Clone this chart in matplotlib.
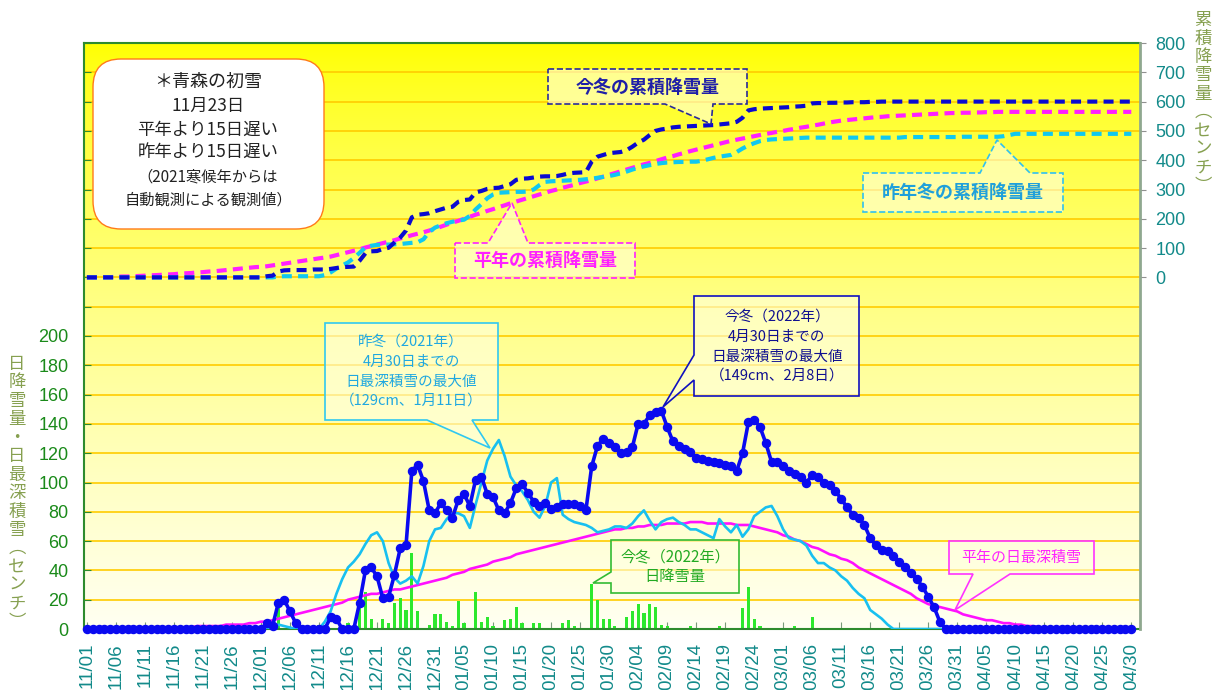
import numpy as np
import pandas as pd
import matplotlib
matplotlib.use('Agg')
from matplotlib import pyplot as plt
from matplotlib.patches import Polygon, FancyBboxPatch

plt.rcParams['font.family'] = ['Noto Sans CJK JP', 'DejaVu Sans']

# days 11/01 .. 04/30
dates = pd.date_range('2022-11-01', '2023-04-30', freq='D')
days = np.arange(len(dates))
tick_days = days[::5]
tick_labels = [d.strftime('%m/%d') for d in dates[::5]]

# daily max snow depth, this winter (cm)
depth_this = ([0] * 30 +
              [0, 4, 2, 18, 20, 12, 4, 0, 0, 0, 0, 0, 8, 7, 0, 0, 0, 18, 40, 42, 36, 21, 22, 37, 55, 57,
               108, 112, 101, 81, 79] +
              [86, 81, 76, 88, 92, 84, 102, 104, 92, 90, 81, 79, 86, 96, 99, 93, 87, 84, 86, 82, 83, 85,
               85, 85, 84, 81, 111, 125, 130, 127, 124] +
              [120, 121, 124, 140, 140, 146, 148, 149, 138, 128, 125, 123, 121, 117, 116, 115, 114, 113,
               112, 111, 108, 120, 141, 143, 138, 127, 114, 114] +
              [111, 108, 106, 104, 100, 105, 104, 100, 98, 94, 89, 83, 78, 76, 71, 62, 57, 54, 53, 50, 46,
               42, 38, 34, 29, 22, 15, 5, 0, 0, 0] +
              [0] * 30)

# daily max snow depth, last winter (cm)
depth_last = ([0] * 30 +
              [0, 0, 0, 3, 2, 1, 0, 0, 0, 0, 0, 5, 12, 24, 34, 42, 46, 51, 58, 64, 66, 60, 45, 35, 31, 33,
               36, 31, 43, 60, 68] +
              [69, 75, 79, 79, 77, 69, 85, 100, 115, 123, 129, 118, 104, 98, 94, 88, 80, 76, 84, 100, 103,
               78, 75, 73, 72, 71, 69, 66, 67, 68, 70] +
              [70, 69, 72, 77, 81, 74, 68, 73, 75, 76, 73, 71, 68, 68, 66, 64, 62, 75, 70, 66, 71, 63, 68,
               77, 80, 83, 84, 77] +
              [68, 62, 61, 60, 57, 50, 45, 45, 42, 40, 36, 33, 28, 24, 21, 13, 10, 7, 3] + [0] * 12 +
              [0] * 30)

# normal daily max snow depth (cm)
depth_normal = ([0, 0, 0, 0, 0, 0, 0, 0, 0, 0, 0, 0, 1, 1, 1, 1, 1, 1, 1, 2, 2, 2, 2, 2, 3, 3, 3, 3, 4, 4] +
                [5, 5, 6, 7, 8, 9, 10, 11, 12, 13, 14, 15, 16, 17, 18, 20, 21, 22, 23, 24, 24, 25, 26, 27,
                 27, 28, 29, 30, 31, 32, 33] +
                [34, 35, 37, 38, 39, 41, 42, 43, 44, 46, 47, 48, 49, 51, 52, 53, 54, 55, 56, 57, 58, 59, 60,
                 61, 62, 63, 64, 65, 66, 67, 68] +
                [68, 69, 69, 70, 70, 71, 71, 71, 72, 72, 72, 72, 73, 73, 73, 72, 72, 72, 72, 72, 71, 71, 71,
                 70, 69, 68, 67, 66] +
                [64, 63, 61, 60, 58, 56, 55, 53, 51, 50, 48, 47, 45, 42, 40, 38, 36, 34, 32, 30, 28, 26, 24,
                 21, 19, 17, 16, 15, 14, 13, 12] +
                [10, 9, 8, 7, 6, 6, 5, 4, 4, 3, 3, 2, 2, 1, 1, 1] + [0] * 14)

# daily snowfall, this winter (cm)
snowfall = ([0] * 30 +
            [0, 2, 0, 15, 0, 0, 0, 0, 0, 0, 3, 0, 0, 0, 0, 4, 0, 20, 25, 7, 0, 7, 4, 18, 21, 13, 52, 12, 0, 3,
             10] +
            [10, 5, 2, 19, 4, 0, 25, 5, 8, 2, 0, 6, 7, 15, 4, 0, 4, 4, 1, 0, 0, 4, 6, 2, 0, 0, 31, 20, 7, 7, 2] +
            [0, 8, 12, 17, 11, 17, 15, 3, 2, 0, 0, 1, 2, 0, 0, 1, 0, 2, 0, 1, 0, 14, 29, 7, 2, 0, 0, 0] +
            [0, 0, 2, 0, 0, 8] + [0] * 25 +
            [0] * 30)

# accumulated snowfall (cm)
cum_this = ([0] * 30 +
            [0, 4, 6, 20, 24, 25, 25, 25, 25, 27, 27, 27, 29, 32, 35, 36, 37, 57, 82, 89, 90, 97, 101, 119,
             136, 160, 205, 214, 216, 219, 226] +
            [232, 238, 241, 258, 264, 266, 290, 295, 302, 305, 306, 312, 318, 333, 337, 338, 341, 344, 345,
             345, 346, 350, 355, 357, 358, 359, 395, 412, 418, 424, 426] +
            [428, 434, 446, 460, 470, 486, 500, 505, 508, 512, 514, 515, 516, 517, 518, 519, 520, 522, 524,
             526, 531, 545, 570, 574, 576, 577, 578, 579] +
            [580, 581, 583, 584, 586, 594, 595, 595, 596, 596, 597, 597, 598, 598, 598, 599, 599] + [600] * 14 +
            [600] * 30)

cum_normal = ([0, 0, 0, 1, 1, 2, 3, 3, 4, 5, 6, 7, 8, 9, 10, 11, 13, 14, 15, 17, 18, 20, 21, 23, 25, 27, 29,
               31, 33, 35] +
              [36, 38, 41, 44, 47, 50, 53, 56, 59, 62, 65, 68, 71, 76, 81, 86, 91, 96, 102, 107, 112, 117,
               122, 127, 133, 138, 144, 149, 154, 160, 166] +
              [173, 180, 187, 193, 200, 207, 214, 220, 227, 233, 240, 246, 253, 259, 265, 271, 277, 283, 289,
               295, 300, 306, 311, 316, 322, 327, 332, 338, 344, 350, 356] +
              [362, 368, 374, 380, 386, 391, 397, 403, 409, 414, 420, 425, 431, 436, 441, 446, 451, 456, 461,
               466, 470, 474, 478, 482, 486, 490, 493, 497] +
              [500, 504, 507, 511, 514, 518, 521, 525, 529, 532, 535, 537, 539, 541, 543, 545, 547, 548, 550,
               551, 552, 553, 554, 555, 556, 557, 558, 559, 560, 561, 561] +
              [562, 562, 563, 563, 564, 564] + [565] * 24)

cum_last = ([0] * 30 +
            [0, 0, 0, 3, 4, 4, 4, 4, 4, 4, 4, 8, 17, 30, 41, 51, 66, 84, 102, 108, 111, 112, 112, 113, 114,
             116, 118, 120, 130, 155, 170] +
            [178, 185, 190, 194, 197, 210, 232, 250, 270, 283, 289, 290, 291, 292, 292, 293, 300, 315, 326,
             328, 329, 330, 331, 332, 333, 335, 337, 340, 343, 346, 350] +
            [355, 361, 368, 374, 379, 383, 387, 390, 392, 393, 394, 394, 395, 395, 398, 403, 408, 412, 415,
             418, 428, 440, 450, 458, 465, 469, 471, 472] +
            [473, 474, 475, 476] + [477] * 17 + [479] * 10 +
            [480] * 7 + [482, 486] + [490] * 21)

W, H = 1213, 690
fig = plt.figure(figsize=(W / 100, H / 100), dpi=100)
ax = fig.add_axes([84 / W, 1 - 629 / H, (1140 - 84) / W, (629 - 43) / H])
tr = fig.dpi_scale_trans


def px(x, y):
    # pixel (y down) -> inches for dpi_scale_trans
    return (x / 100, (H - y) / 100)


# background gradient
g = np.linspace(0, 1, 300) ** 0.75
img = np.zeros((300, 1, 3))
img[:, 0, 0] = 1
img[:, 0, 1] = 1
img[:, 0, 2] = 0.0 + 0.95 * g
ax.imshow(img, extent=[0, 1, 0, 1], transform=ax.transAxes, aspect='auto', zorder=0)

ax.set_xlim(-0.5, 181.5)
ax.set_ylim(0, 400)
ax.set_axisbelow(True)
ax.yaxis.grid(True, color='#FFCC00', lw=1.2)

ax.bar(days, snowfall, width=0.55, color='#2DE82D', zorder=2)
ax.plot(days, depth_normal, color='#FF10FF', lw=1.9, zorder=3)
ax.plot(days, depth_last, color='#18C0F0', lw=1.9, zorder=3)
ax.plot(days, depth_this, color='#0A0AF0', lw=2.6, marker='o', ms=5.8, zorder=4, clip_on=False)

ax.set_yticks(np.arange(0, 401, 20))
ax.set_yticklabels([str(v) if v <= 200 else '' for v in range(0, 401, 20)],
                   fontfamily='Liberation Sans')
ax.tick_params(axis='y', direction='in', length=5, color='#2E8B2E', labelcolor='#1A8A1A',
               labelsize=13, pad=11)
ax.set_xticks(tick_days)
ax.set_xticklabels(tick_labels, rotation=90, fontfamily='Liberation Sans')
ax.tick_params(axis='x', direction='in', length=5, color='#7A9A7A', labelcolor='#128A8A',
               labelsize=13.5, pad=10)
for s in ['left', 'top', 'bottom']:
    ax.spines[s].set_color('#2E8B2E')
    ax.spines[s].set_linewidth(1.5)
ax.spines['right'].set_visible(False)

ax2 = ax.twinx()
ax2.set_ylim(-1200, 800)
ax2.plot(days, cum_normal, color='#FF20FF', lw=3, dashes=(2.4, 1.5), zorder=3)
ax2.plot(days, cum_last, color='#10C8F0', lw=3, dashes=(2.4, 1.5), zorder=3)
ax2.plot(days, cum_this, color='#0A0AD0', lw=3, dashes=(2.4, 1.5), zorder=4)
ax2.set_yticks(np.arange(0, 801, 100))
ax2.set_yticklabels([str(v) for v in range(0, 801, 100)], fontfamily='Liberation Sans')
ax2.tick_params(axis='y', direction='out', length=4, color='#909090', labelcolor='#128A8A',
                labelsize=13, pad=7)
for s in ['left', 'top', 'bottom']:
    ax2.spines[s].set_visible(False)
ax2.spines['right'].set_color('#8FA88F')
ax2.spines['right'].set_linewidth(2)

# axis titles, written vertically
title_col = '#86A050'
fig.text(*px(17, 493), '\n'.join('日降雪量・日最深積雪︵センチ︶'), transform=tr, ha='center',
         va='center', fontsize=12.5, linespacing=1.03, color=title_col)
fig.text(*px(1203, 11), '\n'.join('累積降雪量︵センチ︶'), transform=tr, ha='center',
         va='top', fontsize=12.5, linespacing=1.03, color=title_col)


def callout(x0, y0, x1, y1, edge, b1, b2, tip, ec, ls='-'):
    if edge == 'bottom':
        pts = [(x0, y0), (x1, y0), (x1, y1), (b2, y1), tip, (b1, y1), (x0, y1)]
    elif edge == 'top':
        pts = [(x0, y0), (b1, y0), tip, (b2, y0), (x1, y0), (x1, y1), (x0, y1)]
    else:
        pts = [(x0, y0), (x1, y0), (x1, y1), (x0, y1), (x0, b2), tip, (x0, b1)]
    poly = Polygon([px(*p) for p in pts], closed=True, transform=tr, fc=(1, 1, 0.88, 0.6),
                   ec=ec, lw=1.2, ls=ls, zorder=5)
    fig.add_artist(poly)


def lines(x, ys, texts, size, color, weight='normal'):
    for yy, t in zip(ys, texts):
        fig.text(*px(x, yy), t, transform=tr, ha='center', va='center', fontsize=size,
                 color=color, fontweight=weight, zorder=6)


# first snow box
box = FancyBboxPatch(px(93, 229), 2.31, 1.70, boxstyle='round,pad=0,rounding_size=0.28',
                     transform=tr, fc='white', ec='#FF7A1A', lw=1, zorder=5)
fig.add_artist(box)
lines(208, [82], ['＊青森の初雪'], 13, '#222222')
lines(208, [106, 130, 153], ['11月23日', '平年より15日遅い', '昨年より15日遅い'], 12.5, '#222222')
lines(208, [177, 200], ['（2021寒候年からは', '自動観測による観測値）'], 11, '#222222')

# accumulated snowfall callouts
callout(548, 69, 747, 104, 'bottom', 665, 713, (711, 124), '#2A2A9A', '--')
lines(648, [87], ['今冬の累積降雪量'], 13, '#1F1FA8', 'bold')
callout(455, 243, 635, 278, 'top', 488, 528, (512, 203), '#FF20FF', '--')
lines(545, [260], ['平年の累積降雪量'], 13, '#FF20FF', 'bold')
callout(863, 173, 1063, 212, 'top', 980, 1030, (997, 140), '#30C0F0', '--')
lines(963, [192], ['昨年冬の累積降雪量'], 13, '#20A0DA', 'bold')

# snow depth callouts
callout(325, 323, 498, 420, 'bottom', 427, 472, (490, 448), '#30C8F0')
lines(411, [342, 362, 382, 401], ['昨冬（2021年）', '4月30日までの', '日最深積雪の最大値',
                                  '（129cm、1月11日）'], 10.5, '#20A8E0')
callout(694, 296, 859, 396, 'left', 355, 380, (663, 407), '#1010C0')
lines(777, [317, 337, 357, 376], ['今冬（2022年）', '4月30日までの', '日最深積雪の最大値',
                                  '（149cm、2月8日）'], 10.5, '#101090')
callout(611, 540, 739, 593, 'left', 572, 583, (593, 583), '#33BB33')
lines(675, [557, 577], ['今冬（2022年）', '日降雪量'], 11, '#22AA22')
callout(949, 541, 1094, 574, 'bottom', 973, 1010, (955, 610), '#FF33FF')
lines(1021, [558], ['平年の日最深積雪'], 10.8, '#FF22FF')

fig.savefig('out.png', dpi=100)
